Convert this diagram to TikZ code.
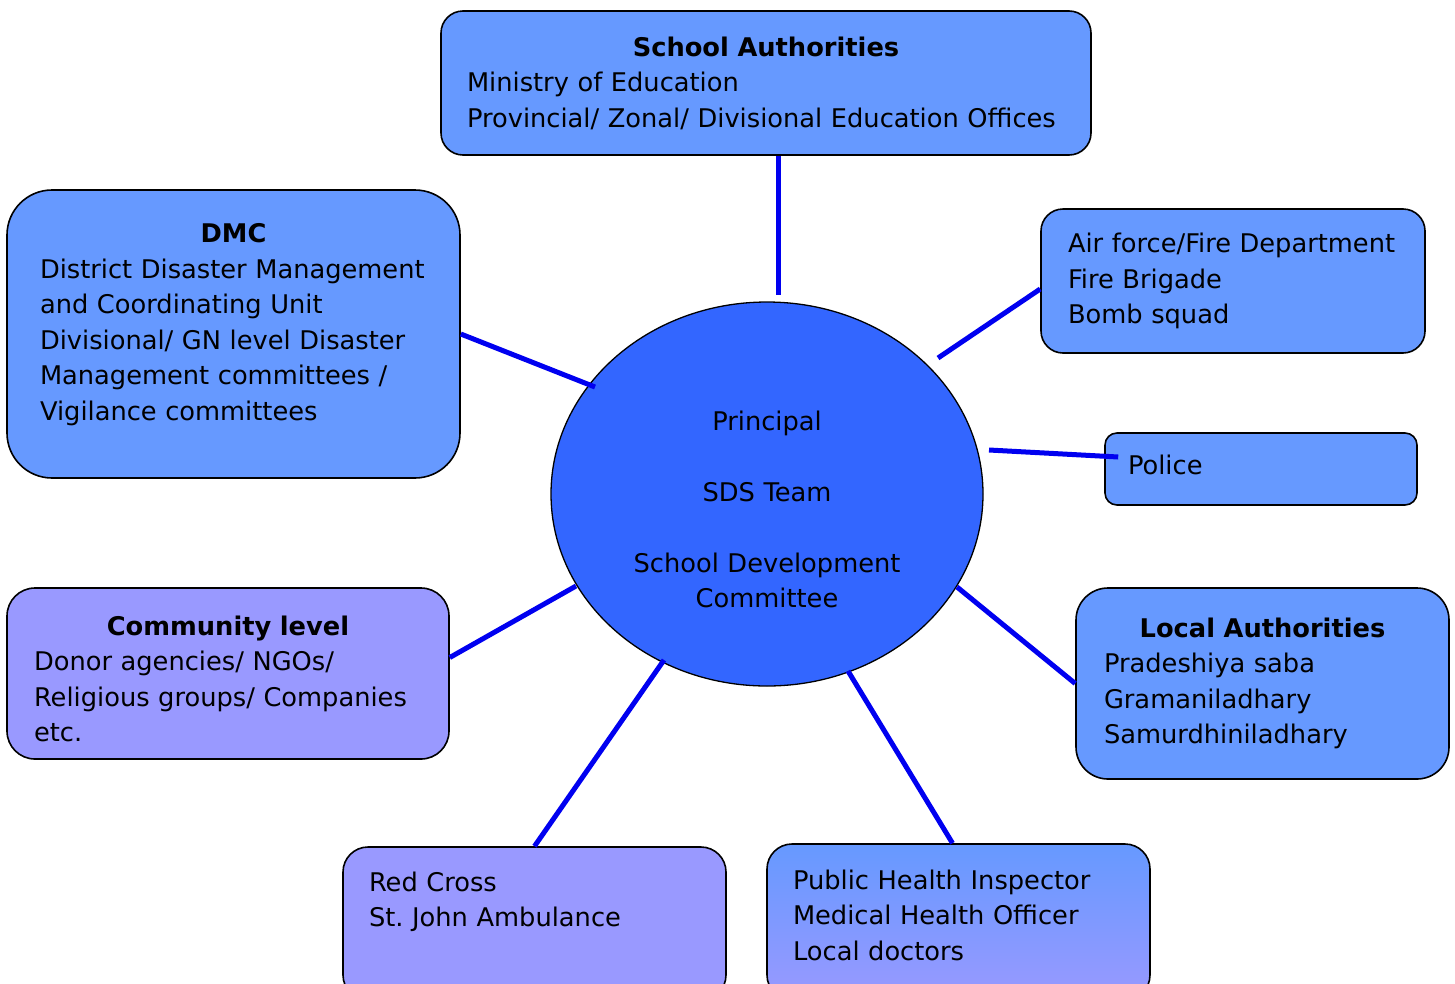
\documentclass[tikz,border=0pt]{standalone}
\usepackage{fontspec}
\setmainfont{DejaVu Sans}
\usepackage{tikz}
\usetikzlibrary{positioning,shapes.geometric}

\definecolor{boxblue}{HTML}{6699FF}
\definecolor{boxpurple}{HTML}{9999FF}
\definecolor{circblue}{HTML}{3366FF}
\definecolor{linkblue}{HTML}{0000F0}

\begin{document}
\begin{tikzpicture}[x=1pt, y=-1pt,
    every node/.style={font=\fontsize{25.7}{35.5}\selectfont, text=black},
    box/.style={rectangle, draw=black, line width=1.6pt, align=left},
    link/.style={draw=linkblue, line width=5pt}]

    \useasboundingbox (0,0) rectangle (1455,983);
    \clip (0,0) rectangle (1455,983);

    % Central circle
    \node (sds)[ellipse, draw=black, line width=1.3pt, fill=circblue, minimum width=432, minimum height=384, inner sep=0pt, text width=290pt, align=center, text height=54pt, text depth=182pt] at (767, 494) {Principal\\[35.5pt]SDS Team\\[35.5pt]School Development\\Committee};

    % Boxes round it
    \node (school)[box, fill=boxblue, rounded corners=22pt, inner xsep=26pt, text width=598pt, minimum height=144pt] at (766, 83) {\makebox[\hsize]{\bfseries School Authorities}\\Ministry of Education\\Provincial/ Zonal/ Divisional Education Offices};

    \node (dmc)[box, fill=boxblue, rounded corners=45pt, inner xsep=33pt, text width=387pt, minimum height=288pt, text depth=202pt] at (233.5, 334) {\makebox[\hsize]{\bfseries DMC}\\District Disaster Management\\and Coordinating Unit\\Divisional/ GN level Disaster\\Management committees /\\Vigilance committees};

    \node (air)[box, fill=boxblue, rounded corners=22pt, inner xsep=27pt, text width=330pt, minimum height=144pt] at (1233, 281) {Air force/Fire Department\\Fire Brigade\\Bomb squad};

    \node (police)[box, fill=boxblue, rounded corners=12pt, inner xsep=23pt, text width=266pt, minimum height=72pt, text depth=8pt] at (1261, 469) {Police};

    \node (local)[box, fill=boxblue, rounded corners=32pt, inner xsep=28pt, text width=317pt, minimum height=191pt] at (1262.5, 683.5) {\makebox[\hsize]{\bfseries Local Authorities}\\Pradeshiya saba\\Gramaniladhary\\Samurdhiniladhary};

    \node (comm)[box, fill=boxpurple, rounded corners=28pt, inner xsep=27pt, text width=388pt, minimum height=171pt, text height=30pt] at (228, 673.5) {\makebox[\hsize]{\bfseries Community level}\\Donor agencies/ NGOs/\\Religious groups/ Companies\\etc.};

    \node (red)[box, fill=boxpurple, rounded corners=25pt, inner xsep=26pt, inner ysep=10pt, text width=331pt, text height=34pt, text depth=99pt] at (534.5, 923.5) {Red Cross\\St.\ John Ambulance};

    \node (health)[box, top color=boxblue, bottom color=boxpurple, rounded corners=25pt, inner xsep=26pt, inner ysep=10pt, text width=331pt, text height=35pt, text depth=101pt] at (958.5, 922) {Public Health Inspector\\Medical Health Officer\\Local doctors};

    % Links to the circle
    \coordinate (sa) at (778, 295);
    \coordinate (dm) at (595, 387);
    \coordinate (af) at (938, 358);
    \coordinate (pc) at (989, 450);
    \coordinate (la) at (957, 587);
    \coordinate (cm) at (576, 586);
    \coordinate (rc) at (664, 660);
    \coordinate (ph) at (848, 671);

    \draw[link] (sa |- school.south) -- (sa);
    \draw[link] (dmc.east) -- (dm);
    \draw[link] ([yshift=-8pt]air.west) -- (af);
    \draw[link] (pc) -- ([xshift=14pt, yshift=12pt]police.west);
    \draw[link] (local.west) -- (la);
    \draw[link] ([yshift=16pt]comm.east) -- (cm);
    \draw[link] (red.north) -- (rc);
    \draw[link] ([xshift=-6pt]health.north) -- (ph);
\end{tikzpicture}
\end{document}
